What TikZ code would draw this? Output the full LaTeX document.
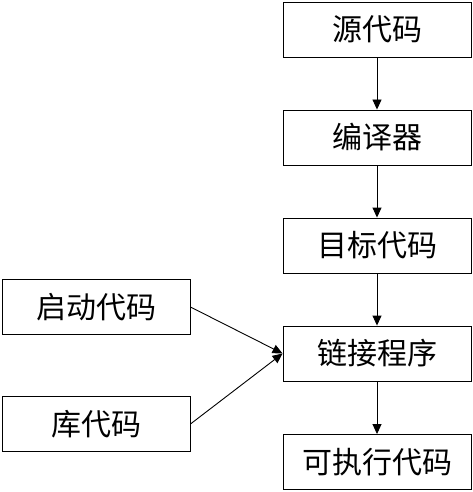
\documentclass[tikz,border=0pt]{standalone}
\usepackage{fontspec}
\newfontfamily\cjk{Noto Sans CJK SC}
\usetikzlibrary{arrows.meta}
\begin{document}
\begin{tikzpicture}[x=1pt,y=-1pt,
  box/.style={draw, line width=0.9pt, minimum width=188pt, minimum height=55pt, inner sep=0pt, font=\cjk\fontsize{30}{34}\selectfont},
  arr/.style={line width=0.9pt, -{Triangle[length=10pt,width=9pt]}}]
\useasboundingbox (0,0) rectangle (473,492);
\node[box] (src) at (377,29.5) {源代码};
\node[box] (cmp) at (377,137.5) {编译器};
\node[box] (obj) at (377,245.5) {目标代码};
\node[box] (lnk) at (377,353.5) {链接程序};
\node[box] (exe) at (377,462) {可执行代码};
\node[box] (boot) at (96,307) {启动代码};
\node[box] (lib) at (96,424) {库代码};
\draw[arr] (src) -- (cmp);
\draw[arr] (cmp) -- (obj);
\draw[arr] (obj) -- (lnk);
\draw[arr] (lnk) -- (exe);
\draw[arr] (boot.east) -- (lnk.west);
\draw[arr] (lib.east) -- (lnk.west);
\end{tikzpicture}
\end{document}
